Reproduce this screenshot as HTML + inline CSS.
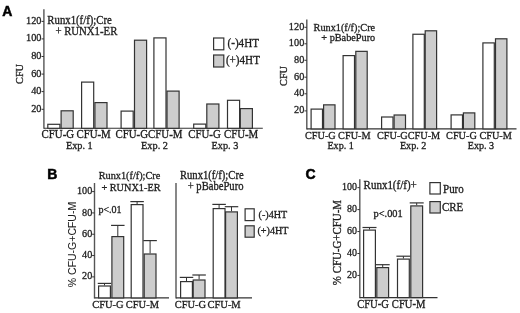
<!DOCTYPE html>
<html><head><meta charset="utf-8"><style>
html,body{margin:0;padding:0;background:#fff;width:520px;height:313px;overflow:hidden}
svg{display:block;filter:blur(0.25px)}
.t{font-family:"Liberation Serif",serif;fill:#1e1e1e;stroke:#1e1e1e;stroke-width:0.3px}
.r{font-family:"Liberation Sans",sans-serif;fill:#1e1e1e;stroke:#1e1e1e;stroke-width:0.05px}
.L{font-family:"Liberation Sans",sans-serif;font-weight:bold;font-size:14px;fill:#000;stroke:#000;stroke-width:0.5px}
</style></head><body>
<svg width="520" height="313" viewBox="0 0 520 313">
<text class="L" x="2.20" y="15.80">A</text>
<line x1="43.90" y1="9.20" x2="43.90" y2="128.80" stroke="#555" stroke-width="1.4"/>
<line x1="41.50" y1="109.30" x2="43.90" y2="109.30" stroke="#333" stroke-width="1.0"/>
<text class="t" x="41.50" y="111.90" font-size="10.30" text-anchor="end" transform="matrix(1,0,0,1.08,0,-8.952)">20</text>
<line x1="41.50" y1="91.60" x2="43.90" y2="91.60" stroke="#333" stroke-width="1.0"/>
<text class="t" x="41.50" y="94.20" font-size="10.30" text-anchor="end" transform="matrix(1,0,0,1.08,0,-7.536)">40</text>
<line x1="41.50" y1="74.10" x2="43.90" y2="74.10" stroke="#333" stroke-width="1.0"/>
<text class="t" x="41.50" y="76.70" font-size="10.30" text-anchor="end" transform="matrix(1,0,0,1.08,0,-6.136)">60</text>
<line x1="41.50" y1="56.50" x2="43.90" y2="56.50" stroke="#333" stroke-width="1.0"/>
<text class="t" x="41.50" y="59.10" font-size="10.30" text-anchor="end" transform="matrix(1,0,0,1.08,0,-4.728)">80</text>
<line x1="41.50" y1="38.90" x2="43.90" y2="38.90" stroke="#333" stroke-width="1.0"/>
<text class="t" x="41.50" y="41.50" font-size="10.30" text-anchor="end" transform="matrix(1,0,0,1.08,0,-3.320)">100</text>
<line x1="41.50" y1="21.40" x2="43.90" y2="21.40" stroke="#333" stroke-width="1.0"/>
<text class="t" x="41.50" y="24.00" font-size="10.30" text-anchor="end" transform="matrix(1,0,0,1.08,0,-1.920)">120</text>
<line x1="43.90" y1="128.30" x2="262.80" y2="128.30" stroke="#333" stroke-width="1.1"/>
<rect x="47.80" y="124.30" width="12.10" height="4.00" fill="#fff" stroke="#333" stroke-width="1.2"/>
<rect x="61.10" y="110.80" width="12.10" height="17.50" fill="#cdcdcd" stroke="#333" stroke-width="1.2"/>
<rect x="81.60" y="82.10" width="12.10" height="46.20" fill="#fff" stroke="#333" stroke-width="1.2"/>
<rect x="94.90" y="102.60" width="12.10" height="25.70" fill="#cdcdcd" stroke="#333" stroke-width="1.2"/>
<rect x="121.10" y="111.10" width="12.10" height="17.20" fill="#fff" stroke="#333" stroke-width="1.2"/>
<rect x="134.50" y="40.20" width="12.10" height="88.10" fill="#cdcdcd" stroke="#333" stroke-width="1.2"/>
<rect x="153.90" y="37.90" width="12.10" height="90.40" fill="#fff" stroke="#333" stroke-width="1.2"/>
<rect x="167.00" y="91.10" width="12.10" height="37.20" fill="#cdcdcd" stroke="#333" stroke-width="1.2"/>
<rect x="193.70" y="124.10" width="12.10" height="4.20" fill="#fff" stroke="#333" stroke-width="1.2"/>
<rect x="206.80" y="104.00" width="12.10" height="24.30" fill="#cdcdcd" stroke="#333" stroke-width="1.2"/>
<rect x="227.50" y="100.30" width="12.10" height="28.00" fill="#fff" stroke="#333" stroke-width="1.2"/>
<rect x="240.30" y="108.60" width="12.10" height="19.70" fill="#cdcdcd" stroke="#333" stroke-width="1.2"/>
<text class="t" x="0" y="0" font-size="10.2" text-anchor="middle" dominant-baseline="central" transform="translate(19.60,74.00) rotate(-90) scale(1,1.08)">CFU</text>
<text id="ft-a1" class="t" x="47.38" y="23.60" font-size="10.77" text-anchor="start" transform="matrix(1,0,0,1.08,0,-1.888)">Runx1(f/f);Cre</text>
<text id="ft-a2" class="t" x="55.40" y="35.50" font-size="10.77" text-anchor="start" transform="matrix(1,0,0,1.08,0,-2.840)">+ RUNX1-ER</text>
<rect x="213.60" y="38.00" width="10.20" height="11.80" fill="#fff" stroke="#333" stroke-width="1.2"/>
<rect x="213.60" y="55.00" width="10.20" height="12.00" fill="#cdcdcd" stroke="#333" stroke-width="1.2"/>
<text id="ft-a3" class="t" x="227.50" y="47.10" font-size="11.12" text-anchor="start" transform="matrix(1,0,0,1.08,0,-3.768)">(-)4HT</text>
<text id="ft-a4" class="t" x="225.89" y="64.00" font-size="11.12" text-anchor="start" transform="matrix(1,0,0,1.08,0,-5.120)">(+)4HT</text>
<text id="ft-a5" class="t" x="41.57" y="138.10" font-size="10.87" text-anchor="start" transform="matrix(1,0,0,1.08,0,-11.048)">CFU-G</text>
<text id="ft-a6" class="t" x="76.40" y="138.10" font-size="10.87" text-anchor="start" transform="matrix(1,0,0,1.08,0,-11.048)">CFU-M</text>
<text id="ft-a7" class="t" x="115.50" y="138.20" font-size="10.87" text-anchor="start" transform="matrix(1,0,0,1.08,0,-11.056)">CFU-GCFU-M</text>
<text id="ft-a8" class="t" x="188.18" y="138.40" font-size="10.87" text-anchor="start" transform="matrix(1,0,0,1.08,0,-11.072)">CFU-G</text>
<text id="ft-a9" class="t" x="223.90" y="138.40" font-size="10.87" text-anchor="start" transform="matrix(1,0,0,1.08,0,-11.072)">CFU-M</text>
<text id="ft-a10" class="t" x="65.90" y="148.80" font-size="10.28" text-anchor="start" transform="matrix(1,0,0,1.08,0,-11.904)">Exp. 1</text>
<text id="ft-a11" class="t" x="141.10" y="148.90" font-size="10.28" text-anchor="start" transform="matrix(1,0,0,1.08,0,-11.912)">Exp. 2</text>
<text id="ft-a12" class="t" x="211.50" y="148.60" font-size="10.28" text-anchor="start" transform="matrix(1,0,0,1.08,0,-11.888)">Exp. 3</text>
<line x1="306.80" y1="19.40" x2="306.80" y2="129.40" stroke="#555" stroke-width="1.4"/>
<line x1="304.40" y1="110.90" x2="306.80" y2="110.90" stroke="#333" stroke-width="1.0"/>
<text class="t" x="304.30" y="113.50" font-size="10.30" text-anchor="end" transform="matrix(1,0,0,1.08,0,-9.080)">20</text>
<line x1="304.40" y1="93.80" x2="306.80" y2="93.80" stroke="#333" stroke-width="1.0"/>
<text class="t" x="304.30" y="96.40" font-size="10.30" text-anchor="end" transform="matrix(1,0,0,1.08,0,-7.712)">40</text>
<line x1="304.40" y1="77.20" x2="306.80" y2="77.20" stroke="#333" stroke-width="1.0"/>
<text class="t" x="304.30" y="79.80" font-size="10.30" text-anchor="end" transform="matrix(1,0,0,1.08,0,-6.384)">60</text>
<line x1="304.40" y1="60.30" x2="306.80" y2="60.30" stroke="#333" stroke-width="1.0"/>
<text class="t" x="304.30" y="62.90" font-size="10.30" text-anchor="end" transform="matrix(1,0,0,1.08,0,-5.032)">80</text>
<line x1="304.40" y1="43.80" x2="306.80" y2="43.80" stroke="#333" stroke-width="1.0"/>
<text class="t" x="304.30" y="46.40" font-size="10.30" text-anchor="end" transform="matrix(1,0,0,1.08,0,-3.712)">100</text>
<line x1="304.40" y1="27.30" x2="306.80" y2="27.30" stroke="#333" stroke-width="1.0"/>
<text class="t" x="304.30" y="29.90" font-size="10.30" text-anchor="end" transform="matrix(1,0,0,1.08,0,-2.392)">120</text>
<line x1="306.80" y1="128.90" x2="516.50" y2="128.90" stroke="#333" stroke-width="1.1"/>
<rect x="311.10" y="109.10" width="11.40" height="19.80" fill="#fff" stroke="#333" stroke-width="1.2"/>
<rect x="323.60" y="104.85" width="11.40" height="24.05" fill="#cdcdcd" stroke="#333" stroke-width="1.2"/>
<rect x="343.10" y="55.60" width="11.40" height="73.30" fill="#fff" stroke="#333" stroke-width="1.2"/>
<rect x="355.80" y="51.35" width="11.40" height="77.55" fill="#cdcdcd" stroke="#333" stroke-width="1.2"/>
<rect x="381.60" y="117.00" width="11.40" height="11.90" fill="#fff" stroke="#333" stroke-width="1.2"/>
<rect x="394.10" y="115.00" width="11.40" height="13.90" fill="#cdcdcd" stroke="#333" stroke-width="1.2"/>
<rect x="412.90" y="34.25" width="11.40" height="94.65" fill="#fff" stroke="#333" stroke-width="1.2"/>
<rect x="425.20" y="30.80" width="11.40" height="98.10" fill="#cdcdcd" stroke="#333" stroke-width="1.2"/>
<rect x="451.10" y="114.90" width="11.40" height="14.00" fill="#fff" stroke="#333" stroke-width="1.2"/>
<rect x="463.40" y="112.90" width="11.40" height="16.00" fill="#cdcdcd" stroke="#333" stroke-width="1.2"/>
<rect x="482.90" y="42.90" width="11.40" height="86.00" fill="#fff" stroke="#333" stroke-width="1.2"/>
<rect x="495.50" y="38.80" width="11.40" height="90.10" fill="#cdcdcd" stroke="#333" stroke-width="1.2"/>
<text class="t" x="0" y="0" font-size="10.2" text-anchor="middle" dominant-baseline="central" transform="translate(283.70,76.00) rotate(-90) scale(1,1.08)">CFU</text>
<text id="ft-b1" class="t" x="313.60" y="30.90" font-size="10.27" text-anchor="start" transform="matrix(1,0,0,1.08,0,-2.472)">Runx1(f/f);Cre</text>
<text id="ft-b2" class="t" x="321.31" y="41.20" font-size="10.27" text-anchor="start" transform="matrix(1,0,0,1.08,0,-3.296)">+ pBabePuro</text>
<text id="ft-b3" class="t" x="305.02" y="138.70" font-size="10.25" text-anchor="start" transform="matrix(1,0,0,1.08,0,-11.096)">CFU-G</text>
<text id="ft-b4" class="t" x="338.11" y="138.70" font-size="10.25" text-anchor="start" transform="matrix(1,0,0,1.08,0,-11.096)">CFU-M</text>
<text id="ft-b5" class="t" x="377.00" y="139.00" font-size="10.25" text-anchor="start" transform="matrix(1,0,0,1.08,0,-11.120)">CFU-GCFU-M</text>
<text id="ft-b6" class="t" x="446.10" y="138.70" font-size="10.25" text-anchor="start" transform="matrix(1,0,0,1.08,0,-11.096)">CFU-G</text>
<text id="ft-b7" class="t" x="479.39" y="138.70" font-size="10.25" text-anchor="start" transform="matrix(1,0,0,1.08,0,-11.096)">CFU-M</text>
<text id="ft-b8" class="t" x="327.40" y="149.50" font-size="10.15" text-anchor="start" transform="matrix(1,0,0,1.08,0,-11.960)">Exp. 1</text>
<text id="ft-b9" class="t" x="399.90" y="149.50" font-size="10.15" text-anchor="start" transform="matrix(1,0,0,1.08,0,-11.960)">Exp. 2</text>
<text id="ft-b10" class="t" x="467.71" y="149.10" font-size="10.15" text-anchor="start" transform="matrix(1,0,0,1.08,0,-11.928)">Exp. 3</text>
<text class="L" x="47.30" y="178.80">B</text>
<line x1="94.50" y1="183.00" x2="94.50" y2="298.50" stroke="#555" stroke-width="1.4"/>
<line x1="92.10" y1="276.88" x2="94.50" y2="276.88" stroke="#333" stroke-width="1.0"/>
<text class="t" x="92.30" y="279.48" font-size="10.20" text-anchor="end" transform="matrix(1,0,0,1.08,0,-22.358)">20</text>
<line x1="92.10" y1="255.56" x2="94.50" y2="255.56" stroke="#333" stroke-width="1.0"/>
<text class="t" x="92.30" y="258.16" font-size="10.20" text-anchor="end" transform="matrix(1,0,0,1.08,0,-20.653)">40</text>
<line x1="92.10" y1="234.24" x2="94.50" y2="234.24" stroke="#333" stroke-width="1.0"/>
<text class="t" x="92.30" y="236.84" font-size="10.20" text-anchor="end" transform="matrix(1,0,0,1.08,0,-18.947)">60</text>
<line x1="92.10" y1="212.92" x2="94.50" y2="212.92" stroke="#333" stroke-width="1.0"/>
<text class="t" x="92.30" y="215.52" font-size="10.20" text-anchor="end" transform="matrix(1,0,0,1.08,0,-17.242)">80</text>
<line x1="92.10" y1="191.60" x2="94.50" y2="191.60" stroke="#333" stroke-width="1.0"/>
<text class="t" x="92.30" y="194.20" font-size="10.20" text-anchor="end" transform="matrix(1,0,0,1.08,0,-15.536)">100</text>
<line x1="94.50" y1="297.90" x2="169.00" y2="297.90" stroke="#333" stroke-width="1.1"/>
<line x1="176.00" y1="183.00" x2="176.00" y2="298.50" stroke="#555" stroke-width="1.4"/>
<line x1="176.00" y1="297.90" x2="252.00" y2="297.90" stroke="#333" stroke-width="1.1"/>
<line x1="104.50" y1="283.40" x2="104.50" y2="285.40" stroke="#333" stroke-width="1.0"/>
<line x1="97.75" y1="283.40" x2="111.25" y2="283.40" stroke="#333" stroke-width="1.2"/>
<rect x="98.60" y="286.00" width="11.80" height="11.90" fill="#fff" stroke="#333" stroke-width="1.2"/>
<line x1="117.80" y1="225.40" x2="117.80" y2="236.00" stroke="#333" stroke-width="1.0"/>
<line x1="111.05" y1="225.40" x2="124.55" y2="225.40" stroke="#333" stroke-width="1.2"/>
<rect x="111.90" y="236.60" width="11.80" height="61.30" fill="#cdcdcd" stroke="#333" stroke-width="1.2"/>
<line x1="137.10" y1="201.60" x2="137.10" y2="204.00" stroke="#333" stroke-width="1.0"/>
<line x1="130.35" y1="201.60" x2="143.85" y2="201.60" stroke="#333" stroke-width="1.2"/>
<rect x="131.20" y="204.60" width="11.80" height="93.30" fill="#fff" stroke="#333" stroke-width="1.2"/>
<line x1="150.10" y1="240.60" x2="150.10" y2="253.40" stroke="#333" stroke-width="1.0"/>
<line x1="143.35" y1="240.60" x2="156.85" y2="240.60" stroke="#333" stroke-width="1.2"/>
<rect x="144.20" y="254.00" width="11.80" height="43.90" fill="#cdcdcd" stroke="#333" stroke-width="1.2"/>
<line x1="186.50" y1="277.40" x2="186.50" y2="281.00" stroke="#333" stroke-width="1.0"/>
<line x1="179.75" y1="277.40" x2="193.25" y2="277.40" stroke="#333" stroke-width="1.2"/>
<rect x="180.60" y="281.60" width="11.80" height="16.30" fill="#fff" stroke="#333" stroke-width="1.2"/>
<line x1="199.10" y1="275.00" x2="199.10" y2="279.40" stroke="#333" stroke-width="1.0"/>
<line x1="192.35" y1="275.00" x2="205.85" y2="275.00" stroke="#333" stroke-width="1.2"/>
<rect x="193.20" y="280.00" width="11.80" height="17.90" fill="#cdcdcd" stroke="#333" stroke-width="1.2"/>
<line x1="219.10" y1="204.40" x2="219.10" y2="208.00" stroke="#333" stroke-width="1.0"/>
<line x1="212.35" y1="204.40" x2="225.85" y2="204.40" stroke="#333" stroke-width="1.2"/>
<rect x="213.20" y="208.60" width="11.80" height="89.30" fill="#fff" stroke="#333" stroke-width="1.2"/>
<line x1="231.50" y1="206.70" x2="231.50" y2="211.30" stroke="#333" stroke-width="1.0"/>
<line x1="224.75" y1="206.70" x2="238.25" y2="206.70" stroke="#333" stroke-width="1.2"/>
<rect x="225.60" y="211.90" width="11.80" height="86.00" fill="#cdcdcd" stroke="#333" stroke-width="1.2"/>
<text class="r" x="0" y="0" font-size="10.5" text-anchor="middle" dominant-baseline="central" transform="translate(71.60,244.50) rotate(-90) scale(1,1.06)">% CFU-G+CFU-M</text>
<text id="ft-c1" class="t" x="98.70" y="179.50" font-size="10.29" text-anchor="start" transform="matrix(1,0,0,1.08,0,-14.360)">Runx1(f/f);Cre</text>
<text id="ft-c2" class="t" x="101.40" y="191.30" font-size="10.29" text-anchor="start" transform="matrix(1,0,0,1.08,0,-15.304)">+ RUNX1-ER</text>
<text id="ft-c3" class="t" x="179.99" y="179.30" font-size="10.62" text-anchor="start" transform="matrix(1,0,0,1.08,0,-14.344)">Runx1(f/f);Cre</text>
<text id="ft-c4" class="t" x="187.70" y="190.30" font-size="10.62" text-anchor="start" transform="matrix(1,0,0,1.08,0,-15.224)">+ pBabePuro</text>
<text id="ft-c5" class="t" x="98.40" y="213.50" font-size="10.05" text-anchor="start" transform="matrix(1,0,0,1.08,0,-17.080)">p&lt;.01</text>
<rect x="245.10" y="208.80" width="9.10" height="11.80" fill="#fff" stroke="#333" stroke-width="1.2"/>
<rect x="245.10" y="225.80" width="9.10" height="11.40" fill="#cdcdcd" stroke="#333" stroke-width="1.2"/>
<text id="ft-c6" class="t" x="258.51" y="217.70" font-size="10.17" text-anchor="start" transform="matrix(1,0,0,1.08,0,-17.416)">(-)4HT</text>
<text id="ft-c7" class="t" x="257.39" y="234.00" font-size="10.17" text-anchor="start" transform="matrix(1,0,0,1.08,0,-18.720)">(+)4HT</text>
<text id="ft-c8" class="t" x="92.20" y="307.80" font-size="10.49" text-anchor="start" transform="matrix(1,0,0,1.08,0,-24.624)">CFU-G</text>
<text id="ft-c9" class="t" x="125.79" y="307.80" font-size="10.49" text-anchor="start" transform="matrix(1,0,0,1.08,0,-24.624)">CFU-M</text>
<text id="ft-c10" class="t" x="174.70" y="307.80" font-size="10.49" text-anchor="start" transform="matrix(1,0,0,1.08,0,-24.624)">CFU-G</text>
<text id="ft-c11" class="t" x="207.50" y="307.80" font-size="10.49" text-anchor="start" transform="matrix(1,0,0,1.08,0,-24.624)">CFU-M</text>
<text class="L" x="305.60" y="178.80">C</text>
<line x1="359.80" y1="179.20" x2="359.80" y2="298.30" stroke="#555" stroke-width="1.4"/>
<line x1="357.40" y1="275.45" x2="359.80" y2="275.45" stroke="#333" stroke-width="1.0"/>
<text class="t" x="356.90" y="278.05" font-size="10.00" text-anchor="end" transform="matrix(1,0,0,1.08,0,-22.244)">20</text>
<line x1="357.40" y1="253.50" x2="359.80" y2="253.50" stroke="#333" stroke-width="1.0"/>
<text class="t" x="356.90" y="256.10" font-size="10.00" text-anchor="end" transform="matrix(1,0,0,1.08,0,-20.488)">40</text>
<line x1="357.40" y1="231.55" x2="359.80" y2="231.55" stroke="#333" stroke-width="1.0"/>
<text class="t" x="356.90" y="234.15" font-size="10.00" text-anchor="end" transform="matrix(1,0,0,1.08,0,-18.732)">60</text>
<line x1="357.40" y1="209.60" x2="359.80" y2="209.60" stroke="#333" stroke-width="1.0"/>
<text class="t" x="356.90" y="212.20" font-size="10.00" text-anchor="end" transform="matrix(1,0,0,1.08,0,-16.976)">80</text>
<line x1="357.40" y1="187.65" x2="359.80" y2="187.65" stroke="#333" stroke-width="1.0"/>
<text class="t" x="356.90" y="190.25" font-size="10.00" text-anchor="end" transform="matrix(1,0,0,1.08,0,-15.220)">100</text>
<line x1="359.80" y1="297.60" x2="437.50" y2="297.60" stroke="#333" stroke-width="1.1"/>
<line x1="369.50" y1="227.50" x2="369.50" y2="229.50" stroke="#333" stroke-width="1.0"/>
<line x1="362.50" y1="227.50" x2="376.50" y2="227.50" stroke="#333" stroke-width="1.2"/>
<rect x="363.60" y="230.10" width="11.80" height="67.50" fill="#fff" stroke="#333" stroke-width="1.2"/>
<line x1="382.70" y1="264.70" x2="382.70" y2="267.00" stroke="#333" stroke-width="1.0"/>
<line x1="375.70" y1="264.70" x2="389.70" y2="264.70" stroke="#333" stroke-width="1.2"/>
<rect x="376.80" y="267.60" width="11.80" height="30.00" fill="#cdcdcd" stroke="#333" stroke-width="1.2"/>
<line x1="403.40" y1="256.20" x2="403.40" y2="258.50" stroke="#333" stroke-width="1.0"/>
<line x1="396.40" y1="256.20" x2="410.40" y2="256.20" stroke="#333" stroke-width="1.2"/>
<rect x="397.50" y="259.10" width="11.80" height="38.50" fill="#fff" stroke="#333" stroke-width="1.2"/>
<line x1="416.70" y1="202.90" x2="416.70" y2="205.30" stroke="#333" stroke-width="1.0"/>
<line x1="409.70" y1="202.90" x2="423.70" y2="202.90" stroke="#333" stroke-width="1.2"/>
<rect x="410.80" y="205.90" width="11.80" height="91.70" fill="#cdcdcd" stroke="#333" stroke-width="1.2"/>
<text class="t" x="0" y="0" font-size="10.9" text-anchor="middle" dominant-baseline="central" transform="translate(336.60,242.60) rotate(-90) scale(1,1.08)">% CFU-G+CFU-M</text>
<text id="ft-d1" class="t" x="363.60" y="189.40" font-size="10.99" text-anchor="start" transform="matrix(1,0,0,1.08,0,-15.152)">Runx1(f/f)+</text>
<text id="ft-d2" class="t" x="373.50" y="216.70" font-size="10.41" text-anchor="start" transform="matrix(1,0,0,1.08,0,-17.336)">p&lt;.001</text>
<rect x="429.90" y="182.60" width="10.40" height="11.40" fill="#fff" stroke="#333" stroke-width="1.2"/>
<rect x="429.90" y="201.60" width="10.40" height="11.40" fill="#cdcdcd" stroke="#333" stroke-width="1.2"/>
<text id="ft-d3" class="t" x="443.09" y="192.90" font-size="10.94" text-anchor="start" transform="matrix(1,0,0,1.08,0,-15.432)">Puro</text>
<text id="ft-d4" class="t" x="441.90" y="210.60" font-size="10.94" text-anchor="start" transform="matrix(1,0,0,1.08,0,-16.848)">CRE</text>
<text id="ft-d5" class="t" x="357.13" y="307.80" font-size="10.60" text-anchor="start" transform="matrix(1,0,0,1.08,0,-24.624)">CFU-G</text>
<text id="ft-d6" class="t" x="391.85" y="307.80" font-size="10.60" text-anchor="start" transform="matrix(1,0,0,1.08,0,-24.624)">CFU-M</text>
</svg>
</body></html>
